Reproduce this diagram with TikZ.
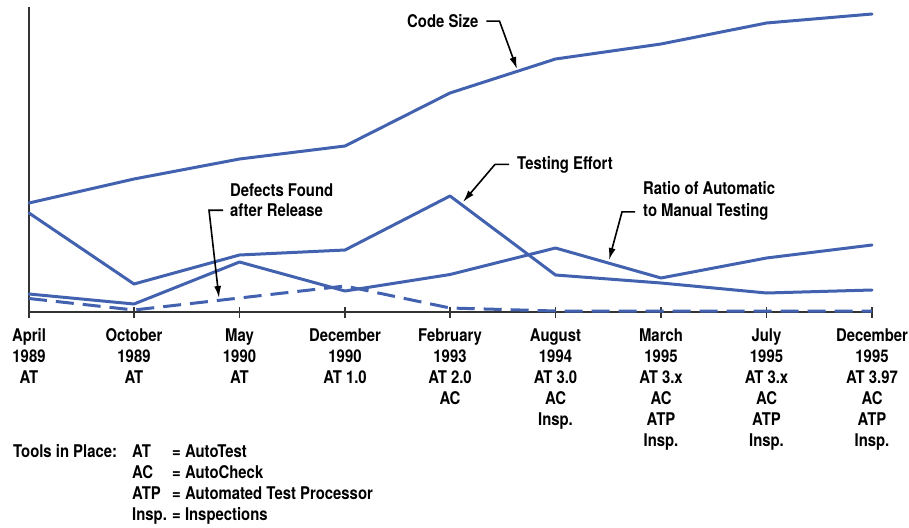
\documentclass[tikz,border=0pt]{standalone}
\usepackage{fontspec}
\setmainfont{TeX Gyre Heros}[FakeStretch=0.85]
\usetikzlibrary{arrows.meta}
\definecolor{chartblue}{RGB}{66,98,176}
\tikzset{
  dataline/.style={chartblue,line width=3pt,line join=round,line cap=round},
  defectline/.style={chartblue,line width=3pt,line join=round,dash pattern=on 18pt off 9pt},
  axisline/.style={black!80,line width=1.2pt},
  pointer/.style={black,line width=1.6pt,-{Latex[length=12pt,width=7pt]}},
  tag/.style={inner sep=0pt,anchor=base west},
  datelabel/.style={inner sep=0pt,anchor=north,align=center}
}
\begin{document}
\begin{tikzpicture}[x=1pt,y=-1pt,font=\bfseries\fontsize{17.5}{21}\selectfont]
\useasboundingbox (0,0) rectangle (909,527);
\draw[axisline] (29,7) -- (29,318);
\draw[axisline] (29,312) -- (872,312);
\draw[axisline] (134,307) -- (134,318);
\draw[axisline] (239.5,307) -- (239.5,318);
\draw[axisline] (345,307) -- (345,318);
\draw[axisline] (450,307) -- (450,318);
\draw[axisline] (555.5,307) -- (555.5,318);
\draw[axisline] (661,307) -- (661,318);
\draw[axisline] (766.5,307) -- (766.5,318);
\draw[axisline] (872,307) -- (872,318);
\draw[dataline] (29,203) -- (134,179) -- (239.5,159) -- (345,146) -- (450,93) -- (555.5,59) -- (661,44) -- (766.5,23) -- (872,14);
\draw[dataline] (29,213) -- (134,284) -- (239.5,255) -- (345,250) -- (450,196) -- (555.5,275) -- (661,283) -- (766.5,293) -- (872,290);
\draw[dataline] (29,294) -- (134,304) -- (239.5,262) -- (345,291) -- (450,274.5) -- (555.5,248) -- (661,278) -- (766.5,258) -- (872,245);
\draw[defectline] (29,298.5) -- (134,310) -- (239.5,298) -- (345,286) -- (450,308) -- (555.5,311) -- (872,311);
\coordinate (sizetip) at (517,69);
\coordinate (defectstip) at (219,298);
\coordinate (testingtip) at (463,202);
\coordinate (ratiotip) at (609,260);
\node[tag] (codesize) at (407,27.5) {Code Size};
\draw[pointer] ([xshift=8pt]codesize.east) -- ++(13,0) -- (sizetip);
\node[tag] (defects) at (230,196) {Defects Found};
\node[tag] (release) at (230,216.5) {after Release};
\draw[pointer] ([xshift=-7pt]release.west) -- ++(-14,0) -- (defectstip);
\node[tag] (testing) at (517,169) {Testing Effort};
\draw[pointer] ([xshift=-8pt]testing.west) -- ++(-14,0) -- (testingtip);
\node[tag] (ratio) at (643,194.5) {Ratio of Automatic};
\node[tag] (manual) at (643,216.5) {to Manual Testing};
\draw[pointer] ([xshift=-8pt]manual.west) -- ++(-13,0) -- (ratiotip);
\node[datelabel] (apr89) at (29,328.3) {April\\1989\\AT};
\node[datelabel] (oct89) at (134,328.3) {October\\1989\\AT};
\node[datelabel] (may90) at (239.5,328.3) {May\\1990\\AT};
\node[datelabel] (dec90) at (345,328.3) {December\\1990\\AT 1.0};
\node[datelabel] (feb93) at (450,328.3) {February\\1993\\AT 2.0\\AC};
\node[datelabel] (aug94) at (555.5,328.3) {August\\1994\\AT 3.0\\AC\\Insp.};
\node[datelabel] (mar95) at (661,328.3) {March\\1995\\AT 3.x\\AC\\ATP\\Insp.};
\node[datelabel] (jul95) at (766.5,328.3) {July\\1995\\AT 3.x\\AC\\ATP\\Insp.};
\node[datelabel] (dec95) at (872,328.3) {December\\1995\\AT 3.97\\AC\\ATP\\Insp.};
\node[tag] (tools) at (13,457) {Tools in Place:};
\node[tag] (at) at (132,457) {AT};
\node[tag] (ac) at (132,478) {AC};
\node[tag] (atp) at (132,499) {ATP};
\node[tag] (insp) at (132,520) {Insp.};
\node[tag] (atname) at (172,457) {= AutoTest};
\node[tag] (acname) at (172,478) {= AutoCheck};
\node[tag] (atpname) at (172,499) {= Automated Test Processor};
\node[tag] (inspname) at (172,520) {= Inspections};
\end{tikzpicture}
\end{document}
